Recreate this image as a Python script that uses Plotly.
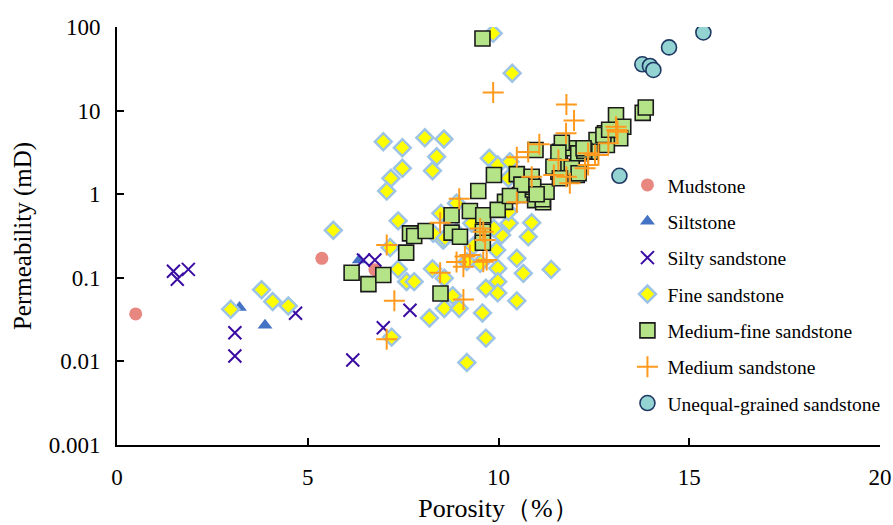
import plotly.graph_objects as go

# ---- data (porosity %, permeability mD) ----
mud_x = [0.49, 5.37, 6.76]
mud_y = [0.037, 0.171, 0.125]

silt_x = [3.21, 3.88, 6.35]
silt_y = [0.044, 0.027, 0.163]

silty_x = [1.48, 1.58, 1.87, 3.09, 3.09, 4.68, 6.46, 6.76, 6.98, 6.18, 7.68]
silty_y = [0.12, 0.096, 0.126, 0.022, 0.0116, 0.0376, 0.163, 0.163, 0.0253, 0.0104, 0.041]

fine_x = [2.98, 3.79, 4.08, 4.49, 5.67, 9.86, 10.36, 6.98, 7.48, 8.07, 8.57, 8.38, 7.48, 8.27,
          7.18, 7.07, 9.76, 9.98, 7.37, 7.16, 7.37, 7.59, 7.79, 8.27, 8.58, 8.19, 8.58, 8.97,
          8.80, 9.58, 9.67, 7.20, 9.98, 9.98, 9.98, 9.67, 10.48, 10.65, 10.48, 11.38, 10.87,
          10.78, 10.28, 10.08, 9.88, 9.52, 9.17, 8.55, 8.29, 9.17, 9.34, 8.60, 8.49, 8.90,
          10.26, 10.30, 10.26, 9.95, 8.90, 9.30]
fine_y = [0.042, 0.072, 0.052, 0.046, 0.37, 84, 28, 4.25, 3.6, 4.74, 4.57, 2.81, 2.04, 1.91,
          1.55, 1.09, 2.69, 2.23, 0.48, 0.23, 0.127, 0.09, 0.09, 0.128, 0.099, 0.033, 0.043, 0.043,
          0.061, 0.038, 0.019, 0.0195, 0.13, 0.09, 0.066, 0.075, 0.171, 0.113, 0.053, 0.126, 0.456,
          0.31, 0.45, 0.325, 0.39, 0.149, 0.156, 0.283, 0.34, 0.0097, 0.24, 0.30, 0.59, 0.78,
          0.62, 2.45, 1.55, 0.215, 0.35, 0.45]

mf_x = [9.58, 10.97, 9.88, 10.48, 9.47, 10.17, 8.77, 9.25, 9.60, 9.98, 10.56, 10.96, 11.17,
        6.15, 6.59, 6.98, 7.58, 7.68, 7.79, 8.09, 8.77, 8.99, 9.59, 9.59, 10.87, 8.48, 10.90,
        11.16, 11.26, 11.61, 11.57, 11.87, 12.05, 12.57, 11.70, 13.78, 13.86, 13.08, 13.27,
        13.19, 12.79, 12.84, 12.40, 11.66, 11.57, 12.09, 11.92, 11.44, 11.61, 10.91, 12.75,
        12.10, 12.90, 12.25, 10.60, 11.00, 10.30, 12.23]
mf_y = [73, 3.38, 1.7, 1.74, 1.09, 0.81, 0.56, 0.63, 0.56, 0.65, 0.98, 0.85, 0.80,
        0.115, 0.084, 0.108, 0.20, 0.34, 0.316, 0.363, 0.347, 0.31, 0.356, 0.263, 1.62, 0.065, 1.14,
        0.87, 1.07, 3.22, 1.86, 3.54, 1.70, 4.45, 2.13, 9.4, 10.9, 8.8, 6.4,
        4.66, 5.35, 3.88, 3.22, 4.13, 3.14, 3.08, 2.04, 2.13, 1.55, 1.23, 5.1,
        1.78, 5.9, 3.3, 1.3, 1.0, 0.95, 3.54]

med_x = [9.86, 11.07, 10.78, 10.48, 10.87, 10.48, 8.97, 11.78, 11.98, 11.77, 11.57, 12.35,
         12.53, 12.27, 11.45, 11.78, 11.87, 8.47, 9.52, 9.60, 9.65, 9.12, 9.25, 8.90, 9.08,
         9.60, 9.69, 7.07, 8.47, 7.27, 9.08, 7.07, 13.08, 13.10, 12.88, 12.62, 12.35, 13.12]
med_y = [16.5, 3.97, 3.2, 2.76, 1.62, 0.80, 0.88, 11.8, 7.6, 5.35, 2.56, 3.08,
         2.94, 2.04, 1.70, 1.62, 1.35, 0.456, 0.39, 0.356, 0.283, 0.18, 0.187, 0.155, 0.136,
         0.156, 0.163, 0.247, 0.115, 0.053, 0.055, 0.0184, 6.4, 5.85, 4.06, 2.94, 2.24, 5.6]

uneq_x = [15.37, 14.47, 13.77, 13.97, 14.06, 13.17]
uneq_y = [86, 57, 35.8, 34.2, 30.6, 1.66]

x_ticks = [0, 5, 10, 15, 20]
y_ticks = [0.001, 0.01, 0.1, 1, 10, 100]
y_tick_text = ["0.001", "0.01", "0.1", "1", "10", "100"]

FONT = "Times New Roman, Liberation Serif, serif"

series = [
    ("Mudstone", mud_x, mud_y, dict(symbol="circle", size=13, color="#E8877F", line=dict(width=0))),
    ("Siltstone", silt_x, silt_y, dict(symbol="triangle-up", size=13, color="#4472C4", line=dict(width=0))),
    ("Silty sandstone", silty_x, silty_y, dict(symbol="x-thin", size=13, color="#3A0CA3",
                                              line=dict(width=2, color="#3A0CA3"))),
    ("Fine sandstone", fine_x, fine_y, dict(symbol="diamond", size=13, color="#FFFF00",
                                            line=dict(width=2.5, color="#9DC3E6"))),
    ("Medium-fine sandstone", mf_x, mf_y, dict(symbol="square", size=15, color="#B5E388",
                                                line=dict(width=1.6, color="#1A1A1A"))),
    ("Medium sandstone", med_x, med_y, dict(symbol="cross-thin", size=15, color="#FF9A1E",
                                             line=dict(width=2, color="#FF9A1E"))),
    ("Unequal-grained sandstone", uneq_x, uneq_y, dict(symbol="circle", size=15, color="#93D4D2",
                                                       line=dict(width=1.6, color="#1F3864"))),
]

fig = go.Figure()
for i, (name, xs, ys, mk) in enumerate(series):
    fig.add_trace(go.Scatter(x=xs, y=ys, mode="markers", name=name, marker=mk,
                             legendgroup=f"g{i}"))

fig.update_layout(
    width=893, height=525,
    margin=dict(l=117, r=13, t=27, b=80, autoexpand=False),
    plot_bgcolor="white", paper_bgcolor="white",
    font=dict(family=FONT, size=23, color="black"),
    legend=dict(x=0.669, y=0.668, xanchor="left", yanchor="top",
                font=dict(family=FONT, size=19.5, color="black"),
                bgcolor="rgba(0,0,0,0)", itemwidth=30,
                traceorder="grouped", tracegroupgap=8),
    xaxis=dict(range=[0, 20], tickvals=x_ticks, ticks="inside", ticklen=7, tickwidth=2,
               tickcolor="black", showline=True, linecolor="black", linewidth=2,
               showgrid=False, zeroline=False, ticklabelstandoff=10, automargin=False,
               title=dict(text="Porosity（%）", font=dict(family=FONT, size=26), standoff=10)),
    yaxis=dict(type="log", range=[-3, 2], tickvals=y_ticks, ticktext=y_tick_text,
               ticks="inside", ticklen=7, tickwidth=2, tickcolor="black",
               showline=True, linecolor="black", linewidth=2, showgrid=False, zeroline=False,
               ticklabelstandoff=10, automargin=False,
               title=dict(text="Permeability (mD)", font=dict(family=FONT, size=25), standoff=10)),
)

fig.write_html("out.html")
